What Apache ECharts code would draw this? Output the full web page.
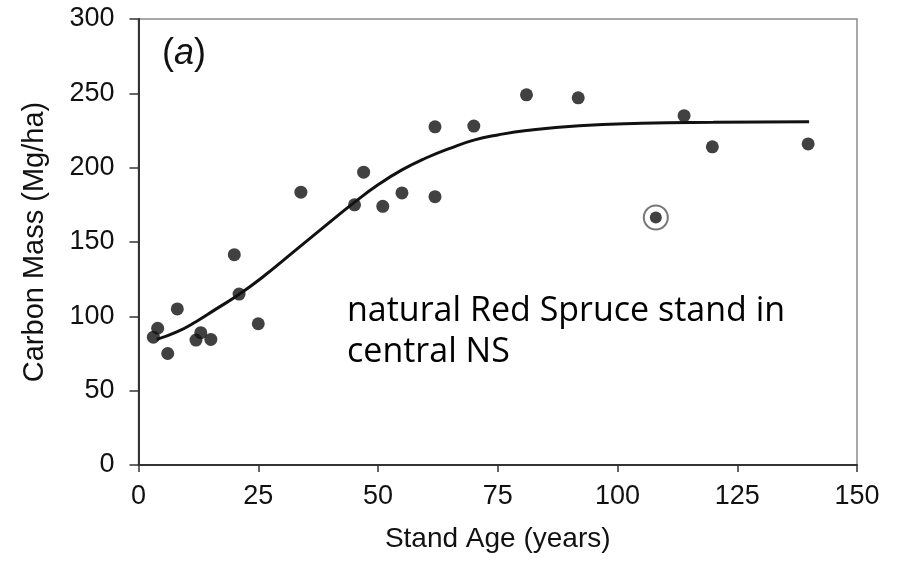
<!DOCTYPE html>
<html>
<head>
<meta charset="utf-8">
<script src="https://cdn.jsdelivr.net/npm/echarts@6/dist/echarts.min.js"></script>
<style>
  html, body { margin: 0; padding: 0; background: #fff; }
  #chart { width: 899px; height: 563px; }
</style>
</head>
<body>
<div id="chart"></div>
<script>
// measured stands: age (years) and carbon mass (Mg/ha)
var standAge = [3.1, 4.0, 6.1, 8.1, 12.0, 13.0, 15.1, 20.0, 21.0, 25.0, 33.9, 45.1, 47.0, 51.0, 55.0, 61.9, 61.9, 70.0, 81.0, 91.8, 113.9, 119.8, 139.8];
var carbonMass = [86, 92, 75, 105, 84, 89, 84.5, 141.5, 115, 95, 183.5, 175, 197, 174, 183, 227.5, 180.5, 228, 249, 247, 235, 214, 216];

// circled outlier
var outlierAge = [108.0];
var outlierMass = [166.5];

// fitted growth curve
var curveAge = [3.8, 8, 12, 16, 20.8, 26, 33, 40, 45, 50, 55, 60, 65, 70, 75, 81, 92, 105, 120, 140];
var curveMass = [84.5, 89.5, 96.4, 104.5, 114.3, 126.6, 145, 163.5, 176.5, 188.5, 198.5, 206.5, 213, 218.5, 222, 225, 228.2, 229.8, 230.5, 230.9];

var xTicks = [0, 25, 50, 75, 100, 125, 150];
var yTicks = [0, 50, 100, 150, 200, 250, 300];

function pairs(xs, ys) {
    var out = [];
    for (var i = 0; i < xs.length; i++) out.push([xs[i], ys[i]]);
    return out;
}

var chart = echarts.init(document.getElementById('chart'));
var axisFont = 'Liberation Sans, Arial, sans-serif';

var option = {
    animation: false,
    backgroundColor: '#fff',
    grid: {
        left: 138.5,
        right: 42,
        top: 19,
        bottom: 98,
        show: true,
        borderColor: '#8a8a8a',
        borderWidth: 1.5
    },
    xAxis: {
        type: 'value',
        min: xTicks[0],
        max: xTicks[xTicks.length - 1],
        interval: 25,
        name: 'Stand Age (years)',
        nameLocation: 'middle',
        nameGap: 60,
        nameTextStyle: { fontFamily: axisFont, fontSize: 28, color: '#111' },
        axisLine: { show: true, onZero: false, lineStyle: { color: '#333', width: 2 } },
        axisTick: { show: true, length: 7, lineStyle: { color: '#333', width: 1.5 } },
        axisLabel: { fontFamily: axisFont, fontSize: 27, color: '#111', margin: 18 },
        splitLine: { show: false }
    },
    yAxis: {
        type: 'value',
        min: yTicks[0],
        max: yTicks[yTicks.length - 1],
        interval: 50,
        name: 'Carbon Mass (Mg/ha)',
        nameLocation: 'middle',
        nameGap: 89,
        nameTextStyle: { fontFamily: axisFont, fontSize: 29, color: '#111' },
        axisLine: { show: true, onZero: false, lineStyle: { color: '#333', width: 2 } },
        axisTick: { show: true, length: 9, lineStyle: { color: '#333', width: 1.5 } },
        axisLabel: { fontFamily: axisFont, fontSize: 27, color: '#111', margin: 24 },
        splitLine: { show: false }
    },
    series: [
        {
            name: 'fit',
            type: 'line',
            data: pairs(curveAge, curveMass),
            smooth: 0.5,
            showSymbol: false,
            lineStyle: { color: '#111', width: 3 },
            z: 2
        },
        {
            name: 'stands',
            type: 'scatter',
            data: pairs(standAge, carbonMass),
            symbolSize: 13,
            itemStyle: { color: '#111' },
            z: 3
        },
        {
            name: 'outlier ring',
            type: 'scatter',
            data: pairs(outlierAge, outlierMass),
            symbolSize: 24,
            itemStyle: { color: 'rgba(0,0,0,0)', borderColor: '#555', borderWidth: 2 },
            z: 3
        },
        {
            name: 'outlier',
            type: 'scatter',
            data: pairs(outlierAge, outlierMass),
            symbolSize: 12,
            itemStyle: { color: '#111' },
            z: 4
        }
    ],
    graphic: [
        {
            type: 'text',
            left: 162,
            top: 36,
            style: {
                text: '({a|a})',
                rich: { a: { fontStyle: 'italic', fontFamily: axisFont, fontSize: 36, fill: '#111' } },
                font: '36px Liberation Sans, Arial, sans-serif',
                fill: '#111'
            }
        },
        {
            type: 'text',
            left: 347,
            top: 291,
            style: {
                text: 'natural Red Spruce stand in\ncentral NS',
                font: '34px "Open Sans", sans-serif',
                lineHeight: 41,
                fill: '#000'
            }
        }
    ]
};
chart.setOption(option);
</script>
</body>
</html>
